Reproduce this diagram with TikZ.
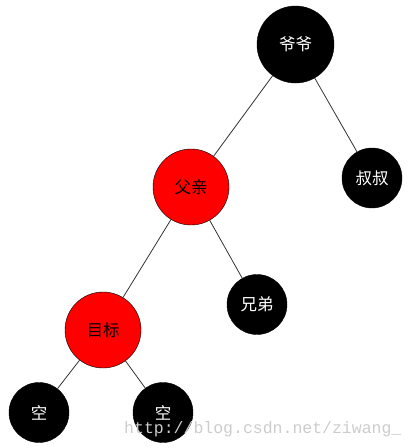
\documentclass[tikz,border=0pt]{standalone}
\usepackage{fontspec}
\newfontfamily\cjk{Noto Sans CJK SC}
\setmonofont{Liberation Mono}
\usepackage{tikz}

\begin{document}
\begin{tikzpicture}[
  x=1pt,y=-1pt,
  font=\cjk\fontsize{16.5}{16.5}\selectfont,
  every node/.style={align=center},
  rednode/.style={draw=black,thin,circle,fill=red,text=black,inner sep=0pt,minimum size=76pt},
  blacknode/.style={draw=black,thin,circle,fill=black,text=white,inner sep=0pt,minimum size=60pt},
  bignode/.style={blacknode,minimum size=77pt},
  to/.style={draw=black!80,line width=0.8pt},
  watermark/.style={font=\ttfamily\fontsize{16.5}{16.5}\selectfont,text=black!20,anchor=base west,inner sep=0pt}]
  \useasboundingbox (0,0) rectangle (416,448);
% Position the nodes at the picture's coordinates
  \node[bignode]   (Grandpa) at (295.5,44.5) {爷爷};
  \node[blacknode] (Uncle)   at (372,178)    {叔叔};
  \node[rednode]   (Father)  at (191,187)    {父亲};
  \node[blacknode] (Brother) at (257,304.5)  {兄弟};
  \node[rednode]   (Target)  at (103,330)    {目标};
  \node[blacknode] (NilLeft) at (39,412.5)   {空};
  \node[blacknode] (NilRight) at (163,412.5) {空};

  % Draw the edges between the nodes
  \draw[to] (Grandpa) -- (Father);
  \draw[to] (Grandpa) -- (Uncle);
  \draw[to] (Father)  -- (Target);
  \draw[to] (Father)  -- (Brother);
  \draw[to] (Target)  -- (NilLeft);
  \draw[to] (Target)  -- (NilRight);

  \node[watermark] (Mark) at (124,433) {http://blog.csdn.net/ziwang\_};
\end{tikzpicture}
\end{document}
